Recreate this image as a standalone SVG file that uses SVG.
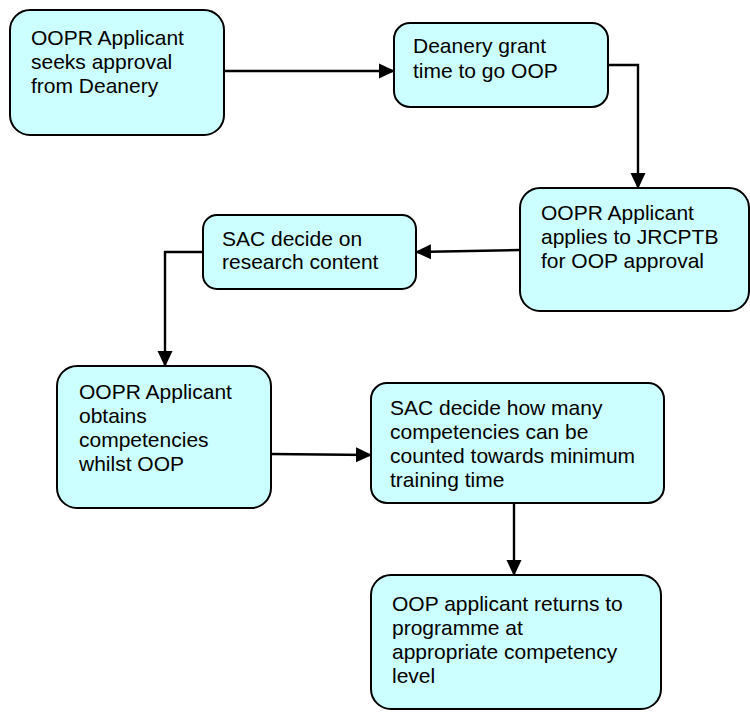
<svg xmlns="http://www.w3.org/2000/svg" width="750" height="713" viewBox="0 0 750 713">
<defs>
<marker id="arr" markerUnits="userSpaceOnUse" markerWidth="16" markerHeight="16" viewBox="0 0 16 16" refX="15" refY="8" orient="auto">
<path d="M0,0.5 L16,8 L0,15.5 Z" fill="#000"/>
</marker>
<style>
.box{fill:#CCFFFF;stroke:#000;stroke-width:2}
.t{font-family:"Liberation Sans",Arial,sans-serif;font-size:21px;fill:#000}
.c{fill:none;stroke:#000;stroke-width:2.4;marker-end:url(#arr)}
</style>
</defs>
<rect width="750" height="713" fill="#fff"/>
<g id="connectors">
<path class="c" d="M224,71 L394,71"/>
<path class="c" d="M608,65 L638,65 L638,188"/>
<path class="c" d="M520,250 L416,252"/>
<path class="c" d="M203,252 L165,252 L165,366"/>
<path class="c" d="M271,454 L371,455"/>
<path class="c" d="M514,503 L514,575"/>
</g>
<g id="n1">
<rect class="box" x="10" y="10" width="214" height="125" rx="20"/>
<text class="t" x="31" y="45">OOPR Applicant</text>
<text class="t" x="31" y="69">seeks approval</text>
<text class="t" x="31" y="93">from Deanery</text>
</g>
<g id="n2">
<rect class="box" x="394" y="23" width="214" height="84" rx="16"/>
<text class="t" x="413" y="53">Deanery grant</text>
<text class="t" x="413" y="78">time to go OOP</text>
</g>
<g id="n3">
<rect class="box" x="520" y="188" width="229" height="123" rx="20"/>
<text class="t" x="541" y="220">OOPR Applicant</text>
<text class="t" x="541" y="244">applies to JRCPTB</text>
<text class="t" x="541" y="268">for OOP approval</text>
</g>
<g id="n4">
<rect class="box" x="203" y="215" width="213" height="74" rx="14"/>
<text class="t" x="222" y="246">SAC decide on</text>
<text class="t" x="222" y="269">research content</text>
</g>
<g id="n5">
<rect class="box" x="57" y="366" width="214" height="142" rx="20"/>
<text class="t" x="79" y="399">OOPR Applicant</text>
<text class="t" x="79" y="423">obtains</text>
<text class="t" x="79" y="447">competencies</text>
<text class="t" x="79" y="471">whilst OOP</text>
</g>
<g id="n6">
<rect class="box" x="371" y="383" width="293" height="120" rx="16"/>
<text class="t" x="390" y="415">SAC decide how many</text>
<text class="t" x="390" y="439">competencies can be</text>
<text class="t" x="390" y="463">counted towards minimum</text>
<text class="t" x="390" y="487">training time</text>
</g>
<g id="n7">
<rect class="box" x="371" y="575" width="290" height="134" rx="20"/>
<text class="t" x="392" y="611">OOP applicant returns to</text>
<text class="t" x="392" y="635">programme at</text>
<text class="t" x="392" y="659">appropriate competency</text>
<text class="t" x="392" y="683">level</text>
</g>
</svg>
